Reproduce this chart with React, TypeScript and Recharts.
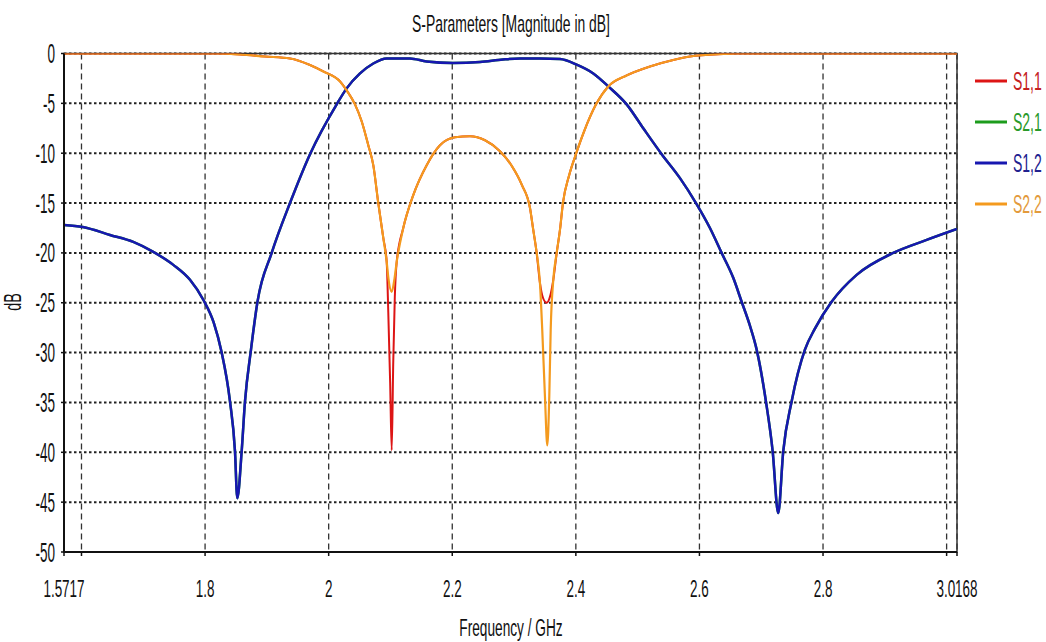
import { LineChart, Line, XAxis, YAxis, CartesianGrid, ReferenceArea } from "recharts";

const FONT = '"Liberation Sans", Arial, sans-serif';

// axis setup
const freqDomain = [1.5717, 3.0168];
const xTicks = [1.5717, 1.6, 1.8, 2, 2.2, 2.4, 2.6, 2.8, 3.0, 3.0168];
const xTickLabels = ["1.5717", "", "1.8", "2", "2.2", "2.4", "2.6", "2.8", "", "3.0168"];
const yTicks = [0, -5, -10, -15, -20, -25, -30, -35, -40, -45, -50];

// S1,2 (transmission) in dB
const s12Freq = [
  1.5717, 1.602, 1.6461, 1.6838, 1.7162, 1.7486, 1.7756, 1.7971, 1.814, 1.8265, 1.8403, 1.8484,
  1.8521, 1.8592, 1.8646, 1.8743, 1.8848, 1.9078, 1.9374, 1.9698, 2.013, 2.0291,
  2.0507, 2.0722, 2.0939, 2.1316, 2.1586, 2.2012, 2.2449, 2.282, 2.3096, 2.3419, 2.3743, 2.4023,
  2.4282, 2.4525, 2.4822, 2.5091, 2.5389, 2.5685, 2.5944, 2.617, 2.6359, 2.6547, 2.6683, 2.6817,
  2.6926, 2.7076, 2.7185, 2.7275, 2.7356, 2.7492, 2.7707, 2.7869, 2.8139, 2.8544, 2.9136, 2.9677,
  3.0168,
];
const s12Db = [
  -17.2, -17.4, -18.2, -18.9, -19.9, -21.2, -22.7, -24.7, -27.0, -29.9, -34.9, -39.9,
  -44.6, -39.9, -34.9, -29.7, -24.9, -20.0, -15.0, -10.1, -5.1, -3.5,
  -2.0, -1.0, -0.5, -0.5, -0.8, -0.95, -0.85, -0.6, -0.5, -0.5, -0.55, -1.15,
  -2.0, -3.3, -5.1, -7.5, -10.1, -12.5, -15.0, -17.5, -20.0, -22.5, -24.9, -27.3,
  -29.7, -34.9, -39.9, -46.1, -39.9, -34.9, -29.7, -27.6, -24.9, -22.2, -20.0, -18.7,
  -17.6,
];
// reciprocal filter: S2,1 sits right under S1,2
const s21Freq = s12Freq;
const s21Db = s12Db;

// S1,1 (port 1 reflection)
const s11Freq = [
  1.5717, 1.82, 1.8565, 1.8969, 1.9374, 1.9698, 1.9913, 2.0184, 2.0291, 2.0426, 2.0534, 2.0641,
  2.0722, 2.0803, 2.0884, 2.0939, 2.0965, 2.0995, 2.102, 2.1045, 2.107, 2.1101, 2.1207, 2.1369,
  2.1586, 2.1801, 2.2044, 2.2287, 2.253, 2.2772, 2.2966, 2.3128, 2.3258, 2.3311, 2.3366, 2.3419,
  2.3468, 2.3527, 2.3581, 2.3635, 2.369, 2.3743, 2.3791, 2.3892, 2.4001, 2.4134, 2.4327, 2.4525,
  2.4822, 2.5199, 2.5576, 2.5847, 2.6385, 2.66, 3.0168,
];
const s11Db = [
  0, 0, -0.1, -0.3, -0.5, -1.15, -1.8, -2.8, -3.7, -5.1, -6.8, -9.2,
  -11.2, -15.0, -18.5, -20.9, -26.0, -33.0, -39.8, -31.0, -24.5, -20.9, -17.5, -14.2,
  -11.2, -9.2, -8.4, -8.3, -8.7, -9.8, -11.3, -13.2, -15.5, -17.7, -20.0, -23.0,
  -24.5, -25.0, -24.4, -22.7, -20.0, -17.7, -15.0, -12.2, -10.1, -7.8, -5.1, -3.3,
  -2.2, -1.3, -0.65, -0.3, -0.05, 0, 0,
];

// S2,2 (port 2 reflection)
const s22Freq = [
  1.5717, 1.82, 1.8565, 1.8969, 1.9374, 1.9698, 1.9913, 2.0184, 2.0291, 2.0426, 2.0534, 2.0641,
  2.0722, 2.0803, 2.0884, 2.0939, 2.0968, 2.102, 2.1065, 2.1101, 2.1207, 2.1369, 2.1586, 2.1801,
  2.2044, 2.2287, 2.253, 2.2772, 2.2966, 2.3128, 2.3258, 2.3311, 2.3366, 2.3419, 2.3456, 2.35,
  2.3538, 2.357, 2.3593, 2.3635, 2.369, 2.3743, 2.3791, 2.3892, 2.4001, 2.4134, 2.4327, 2.4525,
  2.4822, 2.5199, 2.5576, 2.5847, 2.6385, 2.66, 3.0168,
];
const s22Db = [
  0, 0, -0.1, -0.3, -0.5, -1.15, -1.8, -2.8, -3.7, -5.1, -6.8, -9.2,
  -11.2, -15.0, -18.5, -20.9, -22.6, -23.9, -22.6, -20.9, -17.5, -14.2, -11.2, -9.2,
  -8.4, -8.3, -8.7, -9.8, -11.3, -13.2, -15.5, -17.7, -20.0, -23.0, -27.7, -34.4,
  -39.3, -34.4, -27.7, -22.7, -20.0, -17.7, -15.0, -12.2, -10.1, -7.8, -5.1, -3.3,
  -2.2, -1.3, -0.65, -0.3, -0.05, 0, 0,
];

const toRows = (freq: number[], db: number[]) => freq.map((f, i) => ({ f, db: db[i] }));

const series = [
  { name: "S1,1", rows: toRows(s11Freq, s11Db), color: "#dd1515", text: "#c42020", width: 2 },
  { name: "S2,1", rows: toRows(s21Freq, s21Db), color: "#1c9c1c", text: "#2a9a2a", width: 2.5 },
  { name: "S1,2", rows: toRows(s12Freq, s12Db), color: "#1717b0", text: "#22228f", width: 2.5 },
  { name: "S2,2", rows: toRows(s22Freq, s22Db), color: "#f49a1e", text: "#e39a3c", width: 2.2 },
];

function XTick({ x, payload }: any) {
  const i = xTicks.findIndex((t) => Math.abs(t - payload.value) < 1e-6);
  const label = i >= 0 ? xTickLabels[i] : "";
  if (!label) return <g />;
  return (
    <text
      transform={`translate(${x},597) scale(0.55,1)`}
      textAnchor="middle"
      fontSize={24.5}
      fontFamily={FONT}
      fill="#111"
    >
      {label}
    </text>
  );
}

function YTick({ x, y, payload }: any) {
  return (
    <text
      transform={`translate(${x},${y + 9.5}) scale(0.5,1)`}
      textAnchor="end"
      fontSize={27}
      fontFamily={FONT}
      fill="#111"
    >
      {payload.value}
    </text>
  );
}

export default function App() {
  return (
    <div style={{ position: "absolute", left: 0, top: 0, width: 1046, height: 642, background: "#fff" }}>
      <LineChart width={1046} height={642} margin={{ top: 53.5, right: 89, bottom: 40, left: 0 }}>
        <CartesianGrid vertical={false} stroke="#222" strokeWidth={2} strokeDasharray="2.5 2.5" />
        <CartesianGrid horizontal={false} stroke="#333" strokeWidth={1.3} strokeDasharray="6 4" />
        <XAxis
          type="number"
          dataKey="f"
          domain={freqDomain}
          ticks={xTicks}
          interval={0}
          allowDataOverflow
          height={50}
          tick={XTick}
          tickSize={4}
          axisLine={{ stroke: "#111", strokeWidth: 2 }}
          tickLine={{ stroke: "#111", strokeWidth: 1.5 }}
        />
        <YAxis
          type="number"
          domain={[-50, 0]}
          ticks={yTicks}
          interval={0}
          allowDataOverflow
          width={64}
          tick={YTick}
          tickSize={3}
          tickMargin={6}
          axisLine={{ stroke: "#111", strokeWidth: 2 }}
          tickLine={{ stroke: "#111", strokeWidth: 1.5 }}
        />
        <ReferenceArea
          x1={freqDomain[0]}
          x2={freqDomain[1]}
          y1={-50}
          y2={0}
          fill="none"
          stroke="#333"
          strokeWidth={1.5}
        />
        {series.map((s) => (
          <Line
            key={s.name}
            data={s.rows}
            dataKey="db"
            name={s.name}
            type="monotone"
            stroke={s.color}
            strokeWidth={s.width}
            dot={false}
            isAnimationActive={false}
          />
        ))}
      </LineChart>
      <svg
        width={1046}
        height={642}
        style={{ position: "absolute", left: 0, top: 0, pointerEvents: "none" }}
        fontFamily={FONT}
      >
        <text transform="translate(511,32) scale(0.58,1)" textAnchor="middle" fontSize={24} fill="#111">
          S-Parameters [Magnitude in dB]
        </text>
        <text transform="translate(511,636) scale(0.57,1)" textAnchor="middle" fontSize={24} fill="#111">
          Frequency / GHz
        </text>
        <text transform="translate(21,302) rotate(-90) scale(0.6,1)" textAnchor="middle" fontSize={24} fill="#111">
          dB
        </text>
        {series.map((s, i) => {
          const cy = 81 + i * 41;
          return (
            <g key={s.name}>
              <line x1={975} x2={1007} y1={cy} y2={cy} stroke={s.color} strokeWidth={3} />
              <text transform={`translate(1013,${cy + 8.5}) scale(0.56,1)`} fontSize={25} fill={s.text}>
                {s.name}
              </text>
            </g>
          );
        })}
      </svg>
    </div>
  );
}
